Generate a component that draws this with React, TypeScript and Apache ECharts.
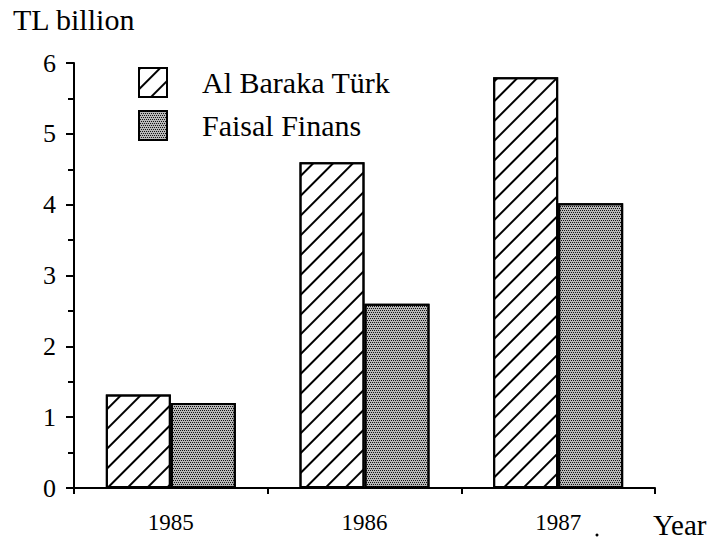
import React, { useEffect, useRef } from "react";
import * as echarts from "echarts";

const years = ["1985", "1986", "1987"];
const alBarakaTurk = [1.32, 4.6, 5.8];
const faisalFinans = [1.2, 2.6, 4.02];
const seriesNames = ["Al Baraka Türk", "Faisal Finans"];
const yMin = 0;
const yMax = 6;
const yInterval = 1;
const yAxisTitle = "TL billion";
const xAxisTitle = "Year";

const FONT = "Liberation Serif";

export default function App() {
  const ref = useRef<HTMLDivElement>(null);
  useEffect(() => {
    document.body.style.margin = "0";
    if (!ref.current) return;
    const chart = echarts.init(ref.current, undefined, { renderer: "svg" });
    const hatchDecal = {
      symbol: "rect",
      symbolSize: 1,
      color: "#000",
      dashArrayX: [1, 0],
      dashArrayY: [2, 12],
      rotation: -Math.PI / 4,
    };
    const dotDecal = {
      symbol: "rect",
      symbolSize: 1,
      color: "#111",
      dashArrayX: [[1, 1], [0, 1, 1, 0]],
      dashArrayY: [1, 1],
      rotation: 0,
    };
    chart.setOption({
      animation: false,
      backgroundColor: "#fff",
      textStyle: { fontFamily: FONT, color: "#000" },
      grid: { left: 74, right: 55, top: 63, bottom: 57, containLabel: false },
      legend: {
        orient: "vertical",
        left: 133,
        top: 62,
        itemWidth: 28,
        itemHeight: 29,
        itemGap: 12,
        icon: "rect",
        textStyle: { fontFamily: FONT, fontSize: 30, color: "#000", padding: [0, 0, 0, 30] },
        itemStyle: { borderColor: "#000", borderWidth: 2 },
        data: seriesNames,
      },
      xAxis: {
        type: "category",
        data: years,
        axisLine: { lineStyle: { color: "#000", width: 2 } },
        axisTick: { show: true, length: 6, inside: false, lineStyle: { color: "#000", width: 2 } },
        axisLabel: { fontFamily: FONT, fontSize: 23, color: "#000", margin: 23 },
      },
      yAxis: {
        type: "value",
        min: yMin,
        max: yMax,
        interval: yInterval,
        splitLine: { show: false },
        axisLine: { show: true, lineStyle: { color: "#000", width: 2 } },
        axisTick: { show: true, length: 8, lineStyle: { color: "#000", width: 2 } },
        minorTick: { show: true, splitNumber: 2, length: 6, lineStyle: { color: "#000", width: 2 } },
        axisLabel: { fontFamily: FONT, fontSize: 26, color: "#000", margin: 18 },
      },
      series: [
        {
          name: seriesNames[0],
          type: "bar",
          data: alBarakaTurk,
          barWidth: 65,
          barGap: "0%",
          itemStyle: { color: "#fff", borderColor: "#000", borderWidth: 2, decal: hatchDecal },
        },
        {
          name: seriesNames[1],
          type: "bar",
          data: faisalFinans,
          barWidth: 65,
          barGap: "0%",
          itemStyle: { color: "#b8b8b8", borderColor: "#000", borderWidth: 2, decal: dotDecal },
        },
      ],
      graphic: [
        {
          type: "text",
          left: 13,
          top: 4,
          style: { text: yAxisTitle, fontFamily: FONT, fontSize: 30, fill: "#000" },
        },
        {
          type: "text",
          left: 653,
          top: 510,
          style: { text: xAxisTitle, fontFamily: FONT, fontSize: 29, fill: "#000" },
        },
        {
          type: "circle",
          shape: { cx: 597, cy: 535, r: 1.5 },
          style: { fill: "#000" },
        },
      ],
    });
    return () => chart.dispose();
  }, []);
  return <div ref={ref} style={{ width: 710, height: 545 }} />;
}
